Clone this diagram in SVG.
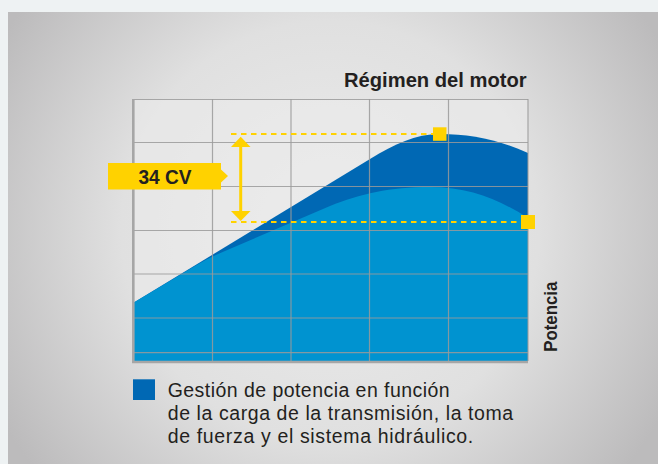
<svg xmlns="http://www.w3.org/2000/svg" width="658" height="464" viewBox="0 0 658 464">
  <defs>
    <radialGradient id="bg" cx="330" cy="230" r="380" gradientUnits="userSpaceOnUse">
      <stop offset="0" stop-color="#ececec"/>
      <stop offset="0.55" stop-color="#e0e0e0"/>
      <stop offset="1" stop-color="#bcbbbc"/>
    </radialGradient>
    <style>
      .grid { stroke: #9a9a9a; stroke-width: 1.2; stroke-opacity: 0.85; fill: none; }
      .axis { stroke: #a6a6a6; stroke-width: 2.6; fill: none; }
      .dash { stroke: #ffd200; stroke-width: 2.2; stroke-dasharray: 5.5 4.5; fill: none; }
      .yel { fill: #ffd200; }
      .title { font-family: "Liberation Sans", Arial, sans-serif; font-weight: bold; fill: #231f20; }
      .legend { font-family: "Liberation Sans", Arial, sans-serif; font-size: 19.5px; fill: #231f20; }
    </style>
  </defs>

  <!-- background -->
  <rect x="0" y="0" width="658" height="464" fill="#eef2f3"/>
  <rect x="8" y="12" width="650" height="452" fill="url(#bg)"/>

  <!-- chart -->
  <g id="chart">
    <rect x="133" y="99" width="395" height="262" fill="#ebebeb" fill-opacity="0.6"/>
    <path id="dark-area" d="M133,303 L370,159 C395,144 415,134 440,134 C470,134 500,140 528,153 L528,361 L133,361 Z" fill="#0068b4"/>
    <path id="light-area" d="M133,303 L195,266 C205,260 215,255 225,251 L330,206 C360,194 390,187 430,187 C470,187 500,200 528,218 L528,361 L133,361 Z" fill="#0093d0"/>
    <g class="grid">
      <line x1="212.5" y1="99" x2="212.5" y2="361"/>
      <line x1="291" y1="99" x2="291" y2="361"/>
      <line x1="369.5" y1="99" x2="369.5" y2="361"/>
      <line x1="448.5" y1="99" x2="448.5" y2="361"/>
      <line x1="528" y1="99" x2="528" y2="361"/>
      <line x1="133" y1="99.5" x2="528" y2="99.5"/>
      <line x1="133" y1="142.5" x2="528" y2="142.5"/>
      <line x1="133" y1="186.5" x2="528" y2="186.5"/>
      <line x1="133" y1="230.5" x2="528" y2="230.5"/>
      <line x1="133" y1="274" x2="528" y2="274"/>
      <line x1="133" y1="318" x2="528" y2="318"/>
      <line x1="133" y1="352.7" x2="528" y2="352.7"/>
    </g>
    <path class="axis" d="M133.3,99 L133.3,362 L528,362"/>
  </g>

  <!-- markers -->
  <g id="markers">
    <line class="dash" x1="231" y1="134" x2="434" y2="134"/>
    <line class="dash" x1="231" y1="222" x2="522" y2="222"/>
    <rect class="yel" x="433" y="127.3" width="13.5" height="13.5"/>
    <rect class="yel" x="521" y="215" width="14" height="14"/>
  </g>

  <!-- double arrow -->
  <g id="arrow">
    <line x1="240.7" y1="145" x2="240.7" y2="213" stroke="#ffd200" stroke-width="3"/>
    <polygon class="yel" points="240.7,136.7 231,147 250.5,147"/>
    <polygon class="yel" points="240.7,221 231,211 250.5,211"/>
  </g>

  <!-- 34 CV label -->
  <g id="label-34cv">
    <rect class="yel" x="108" y="163" width="113" height="26.5"/>
    <polygon class="yel" points="220.5,169 228,176 220.5,183"/>
    <text class="title" x="165" y="183.5" font-size="20" text-anchor="middle" textLength="53" lengthAdjust="spacingAndGlyphs">34 CV</text>
  </g>

  <!-- axis titles -->
  <g id="axis-x-title">
    <text class="title" x="344" y="87.3" font-size="20" textLength="182.7" lengthAdjust="spacingAndGlyphs">Régimen del motor</text>
  </g>
  <g id="axis-y-title">
    <text class="title" transform="translate(557.3,351.7) rotate(-90)" x="0" y="0" font-size="17.5" textLength="70" lengthAdjust="spacingAndGlyphs">Potencia</text>
  </g>

  <!-- legend -->
  <g id="legend">
    <rect x="133" y="379.3" width="22" height="20.7" fill="#0068b4"/>
    <text class="legend" x="167.7" y="396.7" textLength="282" lengthAdjust="spacing">Gestión de potencia en función</text>
    <text class="legend" x="167.7" y="420" textLength="345.5" lengthAdjust="spacing">de la carga de la transmisión, la toma</text>
    <text class="legend" x="167.7" y="443.3" textLength="305.5" lengthAdjust="spacing">de fuerza y el sistema hidráulico.</text>
  </g>
</svg>
